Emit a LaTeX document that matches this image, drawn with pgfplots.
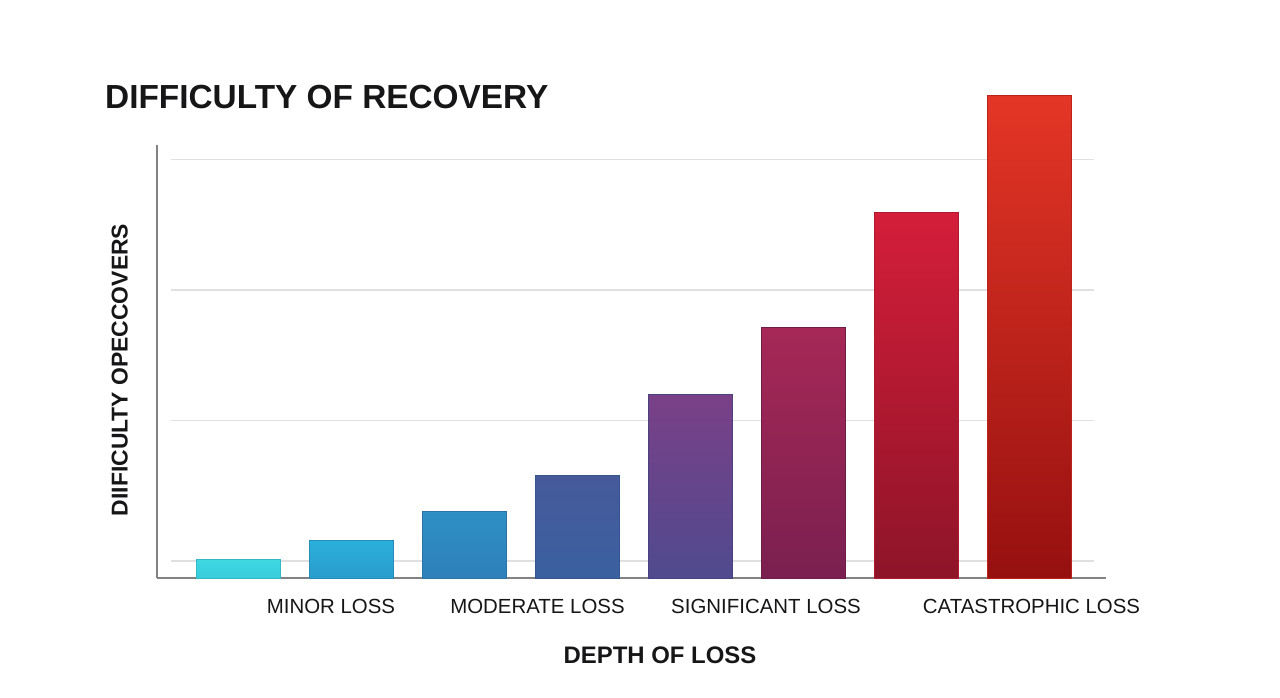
\documentclass[border=0pt]{standalone}
\usepackage{pgfplots}
\pgfplotsset{compat=1.18}
\usepackage{fontspec}
\setmainfont{Liberation Sans}
\definecolor{gridgray}{RGB}{224,224,226}
\definecolor{axgray}{RGB}{130,130,132}
\definecolor{txt}{RGB}{22,22,24}
% bar colours, top / bottom
\definecolor{b1t}{RGB}{62,216,226}\definecolor{b1b}{RGB}{56,204,220}
\definecolor{b2t}{RGB}{42,176,220}\definecolor{b2b}{RGB}{42,156,204}
\definecolor{b3t}{RGB}{46,144,196}\definecolor{b3b}{RGB}{46,128,186}
\definecolor{b4t}{RGB}{70,90,154}\definecolor{b4b}{RGB}{58,96,160}
\definecolor{b5t}{RGB}{122,64,136}\definecolor{b5b}{RGB}{80,74,142}
\definecolor{b6t}{RGB}{166,40,86}\definecolor{b6b}{RGB}{122,32,80}
\definecolor{b7t}{RGB}{212,30,58}\definecolor{b7b}{RGB}{142,20,40}
\definecolor{b8t}{RGB}{228,54,38}\definecolor{b8b}{RGB}{150,16,16}

\begin{document}
\begin{tikzpicture}
\path[use as bounding box] (-157bp,-120bp) rectangle (1123bp,578bp);
\begin{axis}[
    at={(0,0)}, anchor=south west,
    scale only axis,
    width=949bp, height=433bp,
    xmin=-0.7195, xmax=7.679,
    ymin=0, ymax=433,
    clip=false,
    axis x line=bottom, axis y line=left,
    axis line style={-, draw=axgray, line width=1.6bp},
    ytick=\empty,
    xtick={0.82,2.648,4.67,7.02},
    xticklabels={MINOR LOSS, MODERATE LOSS, SIGNIFICANT LOSS, CATASTROPHIC LOSS},
    major tick length=0pt,
    xticklabel style={anchor=center, yshift=-28bp, font=\fontsize{20.5}{24}\selectfont, text=txt},
    every axis plot/.append style={ybar, bar width=84bp, bar shift=0pt, line width=0.4bp},
]
% grid lines
\foreach \g in {17,157.3,288,418.7}{
  \edef\tmp{\noexpand\draw[gridgray, line width=1.4bp] (axis cs:-0.596,\g) -- (axis cs:7.57,\g);}\tmp
}
\addplot[draw=b1b!90!black, top color=b1t, bottom color=b1b] coordinates {(0,18.5)};
\addplot[draw=b2b!90!black, top color=b2t, bottom color=b2b] coordinates {(1,38)};
\addplot[draw=b3b!90!black, top color=b3t, bottom color=b3b] coordinates {(2,66.5)};
\addplot[draw=b4b!90!black, top color=b4t, bottom color=b4b] coordinates {(3,102.5)};
\addplot[draw=b5b!90!black, top color=b5t, bottom color=b5b] coordinates {(4,183.7)};
\addplot[draw=b6b!90!black, top color=b6t, bottom color=b6b] coordinates {(5,250.5)};
\addplot[draw=b7t!50!b7b, top color=b7t, bottom color=b7b] coordinates {(6,365.7)};
\addplot[draw=b8t!50!b8b, top color=b8t, bottom color=b8b] coordinates {(7,482.3)};
\end{axis}
\node[anchor=west, inner sep=0, text=txt, font=\fontsize{33.5}{38}\selectfont\bfseries] at (-52bp,481bp) {DIFFICULTY OF RECOVERY};
\node[rotate=90, inner sep=0, text=txt, font=\fontsize{23}{27}\selectfont\bfseries] at (-37.3bp,208bp) {DIIFICULTY OPECCOVERS};
\node[inner sep=0, text=txt, font=\fontsize{24}{28}\selectfont\bfseries] at (503bp,-77bp) {DEPTH OF LOSS};
\end{tikzpicture}
\end{document}
